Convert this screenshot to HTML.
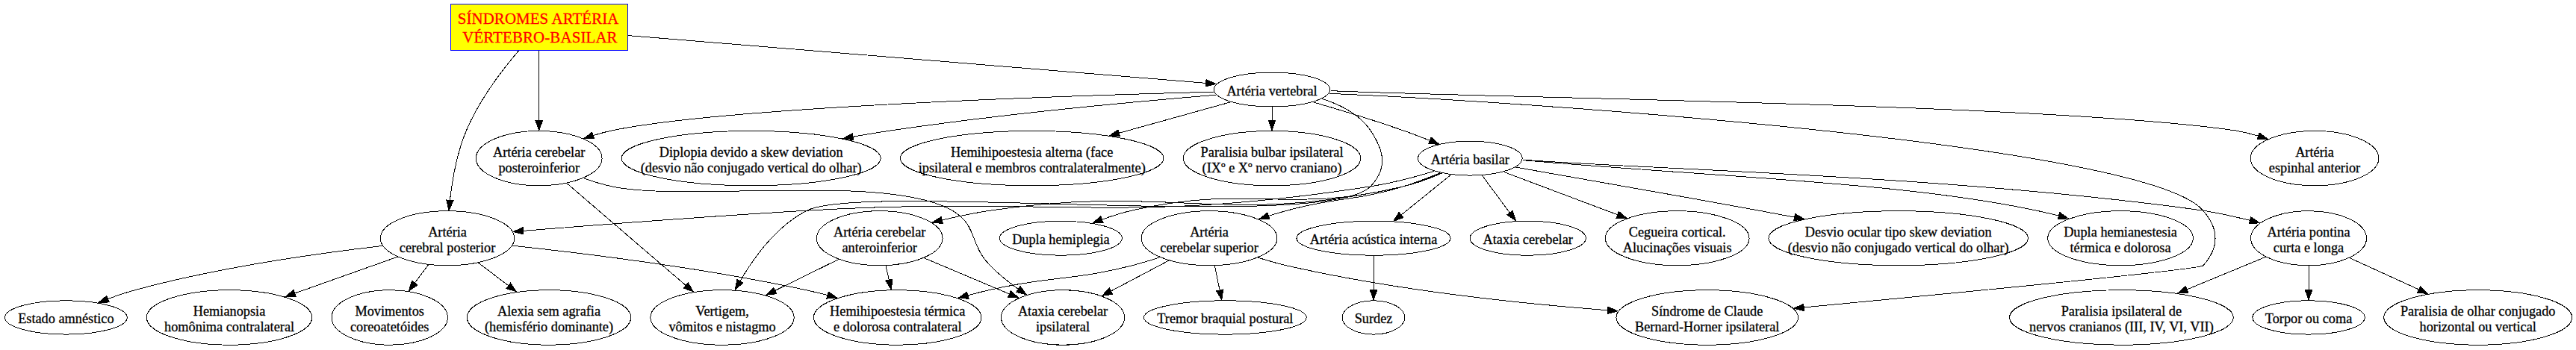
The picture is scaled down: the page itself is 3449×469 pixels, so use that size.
<!DOCTYPE html><html><head><meta charset="utf-8"><title>Síndromes Artéria Vértebro-Basilar</title><style>html,body{margin:0;padding:0;background:#fff;}svg{display:block;}text{font-family:"Liberation Serif",serif;}</style></head><body>
<svg shape-rendering="crispEdges" width="3449" height="469" viewBox="0 0 3449 469">
<rect x="0" y="0" width="3449" height="469" fill="#fff"/>
<g fill="none" stroke="#000" stroke-width="1">
<path d="M841.05,47.58C1040.68,64.05 1437.78,96.79 1614.58,111.37"/>
<path d="M721.7,64.53C721.7,90.41 721.7,130.18 721.7,161.57"/>
<path d="M697.25,64.57C674.69,90.85 642.09,132.93 624.37,175 612.04,204.26 605.7,239.83 602.46,268.17"/>
<path d="M1625.04,123.15C1438.7,127.99 971.84,143 819.04,175 810.94,176.69 802.61,178.93 794.4,181.46"/>
<path d="M1627.93,127.21C1528.13,135.5 1346.46,152.18 1192.37,175 1176.14,177.39 1159.18,180.22 1142.37,183.2"/>
<path d="M1647.8,136.7C1606.94,148.07 1549.81,163.98 1498.96,178.14"/>
<path d="M1703.04,143.44C1703.04,148.88 1703.04,154.93 1703.04,161.11"/>
<path d="M1757.74,136.71C1792.68,146.85 1838.81,160.84 1879.04,175 1890.49,179.02 1902.64,183.65 1914.16,188.21"/>
<path d="M1781.89,121.66C2029.53,132.21 2747.28,139.04 2993.7,175 3003.48,176.82 3013.57,179.35 3023.48,182.24"/>
<path d="M1769.78,132.38C1794.54,140.05 1820.2,153.04 1835.04,175 1853.53,202.37 1858,225.61 1835.04,249.82 1776.96,311.04 1155.25,243.85 1080.37,282.15 1040.64,302.48 1010.18,343.82 990.9,376.62"/>
<path d="M1779.58,125.38C2034.89,135.56 2875.48,193.01 2949.7,282.15 2971.22,306.89 2971.54,331.71 2949.7,355.95 2945.26,360.89 2607.48,393.63 2415.48,411.89"/>
<path d="M759.5,246.04C802.12,282.77 871.52,342.43 918.21,382.35"/>
<path d="M782.18,239.08C794.21,243.31 806.89,247.18 819.04,249.82 918.34,271.43 1186.78,231.32 1275.04,282.15 1309.45,301.97 1297.77,327.81 1325.7,355.95 1336.84,367.17 1350.01,377.78 1363.02,387.13"/>
<path d="M1920.16,229.4C1895.06,236.98 1863.7,245.35 1835.04,249.82 1503.25,301.53 1415.52,262.55 1080.37,282.15 949.14,289.83 798.01,301.5 700.64,309.39"/>
<path d="M1930.56,232.05C1914.97,238.87 1896.49,245.87 1879.04,249.82 1638.66,304.23 1569.42,245.93 1325.7,282.15 1304.8,285.27 1282.52,289.91 1261.74,294.83"/>
<path d="M1930.05,231.97C1914.56,238.69 1896.28,245.64 1879.04,249.82 1721.12,288.09 1673.44,245.95 1515.04,282.15 1502.09,285.12 1488.52,289.44 1475.82,294.08"/>
<path d="M1928.01,231.7C1912.86,238.06 1895.37,244.85 1879.04,249.82 1811.26,270.46 1791.34,263.43 1723.04,282.15 1715.06,284.34 1706.81,286.8 1698.61,289.4"/>
<path d="M1942.2,234.57C1923.21,249.9 1897.28,270.84 1876.16,287.89"/>
<path d="M1984.4,235.08C1995,249.4 2009.12,268.47 2021.14,284.69"/>
<path d="M2013.54,230.45C2054.54,245.89 2115.96,269 2165.33,287.6"/>
<path d="M2029.36,224.02C2105.58,237.32 2240.04,260.94 2355.04,282.15 2370.37,284.98 2386.41,287.99 2402.37,290.99"/>
<path d="M2038.78,214.61C2306.14,238.25 2577.12,244.55 2755.97,288.89"/>
<path d="M2039.05,214.11C2192.62,226.45 2612.13,234.83 2949.7,282.15 2970.2,285.43 2992.06,290.28 3012.33,295.34"/>
<path d="M511.9,329.45C426.98,339.35 294.69,358.03 183.04,388.03 170.44,391.41 157.18,395.87 144.72,400.5"/>
<path d="M532.41,344.17C491.66,358.63 439.05,377.28 394.92,392.93"/>
<path d="M573.29,355.03C567.54,362.72 561.38,370.98 555.37,379.02"/>
<path d="M640.58,352.17C653.16,361.75 667.16,372.42 680.44,382.54"/>
<path d="M686.34,329.17C782.54,339.54 941.52,359.23 1076.37,388.03 1086.57,390.21 1097.16,392.77 1107.65,395.5"/>
<path d="M1122.9,347.48C1096.89,360.27 1065.48,375.72 1037.69,389.38"/>
<path d="M1185.96,356.18C1187.34,362.14 1188.8,368.41 1190.24,374.64"/>
<path d="M1237.09,345.61C1271.46,360.12 1314.98,378.49 1351.26,393.82"/>
<path d="M1552.93,344.81C1540.45,348.88 1527.42,352.81 1515.04,355.95 1432.88,376.82 1409.68,369.14 1327.04,388.03 1316.94,390.33 1306.46,392.96 1296.05,395.74"/>
<path d="M1564.96,349.11C1541.01,361.77 1512.64,376.76 1487.58,390.01"/>
<path d="M1626.38,356.18C1628.56,366.77 1630.94,378.34 1633.12,388.88"/>
<path d="M1684.46,345.11C1697.13,349.22 1710.4,353.07 1723.04,355.95 1867.93,389.02 2037.68,406.79 2152.54,415.81"/>
<path d="M1839.04,343.02C1839.04,356.26 1839.04,373.34 1839.04,388.4"/>
<path d="M3033.53,344.3C3002.37,357.17 2963.22,373.35 2928.33,387.78"/>
<path d="M3091.04,356.18C3091.04,366.65 3091.04,378.07 3091.04,388.54"/>
<path d="M3145.9,345.61C3173.66,358.29 3207.85,373.92 3238.41,387.88"/>
</g><g fill="#000" stroke="#000" stroke-width="1">
<polygon points="1615.04,106.7 1627.94,112.47 1614.28,116.04"/>
<polygon points="726.37,161.66 721.7,174.92 717.04,161.66"/>
<polygon points="607.08,268.92 601.06,281.84 597.78,267.95"/>
<polygon points="795.77,185.9 781.64,185.65 792.84,177.09"/>
<polygon points="1142.9,187.82 1128.96,185.62 1141.24,178.69"/>
<polygon points="1499.58,182.77 1485.49,181.89 1497.08,173.84"/>
<polygon points="1707.7,161.4 1703.04,174.65 1698.37,161.4"/>
<polygon points="1916.22,184.03 1926.84,193.3 1912.73,192.63"/>
<polygon points="3024.98,177.86 3036.33,186.21 3022.21,186.71"/>
<polygon points="994.94,378.94 984.3,388.26 986.82,374.33"/>
<polygon points="2415.62,416.56 2401.9,413.17 2414.74,407.25"/>
<polygon points="921.28,378.82 928.38,391.06 915.21,385.94"/>
<polygon points="1366.06,383.55 1374.36,395.02 1360.74,391.24"/>
<polygon points="700.92,314.09 687.25,310.48 700.17,304.7"/>
<polygon points="1262.41,299.53 1248.34,298.1 1260.21,290.36"/>
<polygon points="1477.1,298.63 1462.98,298.97 1473.81,289.81"/>
<polygon points="1699.92,293.93 1685.8,293.55 1697.06,284.94"/>
<polygon points="1878.94,291.68 1865.61,296.39 1873.12,284.31"/>
<polygon points="2025.18,282.27 2029.44,295.89 2017.7,287.93"/>
<polygon points="2167.38,283.34 2178.25,292.46 2164.12,292.18"/>
<polygon points="2403.49,286.41 2415.73,293.52 2401.77,295.68"/>
<polygon points="2757.89,284.54 2769.4,292.81 2755.29,293.59"/>
<polygon points="3013.61,290.8 3025.38,298.7 3011.3,299.95"/>
<polygon points="146.18,404.94 132.06,405.34 142.86,396.19"/>
<polygon points="396.24,397.44 382.12,397.48 393.13,388.62"/>
<polygon points="559.06,381.88 547.34,389.78 551.6,376.27"/>
<polygon points="683.6,379.06 691.4,390.88 677.96,386.52"/>
<polygon points="1109.21,391.08 1120.88,399.05 1106.8,400.11"/>
<polygon points="1039.65,393.63 1025.62,395.31 1035.54,385.22"/>
<polygon points="1194.88,373.97 1193.34,388.06 1185.78,376.09"/>
<polygon points="1353.29,389.59 1363.77,399.09 1349.68,398.21"/>
<polygon points="1297.04,400.31 1282.94,399.3 1294.58,391.29"/>
<polygon points="1489.56,394.26 1475.58,396.34 1485.2,385.97"/>
<polygon points="1637.69,387.96 1635.81,402 1628.54,389.86"/>
<polygon points="2152.98,411.15 2165.92,416.84 2152.28,420.48"/>
<polygon points="1843.7,388.67 1839.04,402.04 1834.37,388.67"/>
<polygon points="2929.78,392.23 2915.68,393 2926.24,383.58"/>
<polygon points="3095.7,388.63 3091.04,402 3086.37,388.63"/>
<polygon points="3240.61,383.74 3250.8,393.55 3236.73,392.25"/>
</g>
<g fill="none" stroke="#000" stroke-width="1">
<ellipse cx="1703.04" cy="120" rx="77.55" ry="23"/>
<ellipse cx="721.7" cy="212.1" rx="84.35" ry="36.65"/>
<ellipse cx="1005.7" cy="212.1" rx="173.5" ry="36.65"/>
<ellipse cx="1381.7" cy="212.1" rx="176.35" ry="36.65"/>
<ellipse cx="1703.04" cy="212.1" rx="118.8" ry="36.65"/>
<ellipse cx="1968.37" cy="212.1" rx="69.8" ry="23"/>
<ellipse cx="3099.04" cy="212.1" rx="85.9" ry="36.65"/>
<ellipse cx="599.04" cy="319.2" rx="89.7" ry="36.5"/>
<ellipse cx="1177.7" cy="319.2" rx="84.35" ry="36.5"/>
<ellipse cx="1420.37" cy="319.2" rx="81.95" ry="23"/>
<ellipse cx="1619.04" cy="319.2" rx="90.95" ry="36.5"/>
<ellipse cx="1839.04" cy="319.2" rx="103.1" ry="23"/>
<ellipse cx="2045.7" cy="319.2" rx="77.65" ry="23"/>
<ellipse cx="2245.7" cy="319.2" rx="96.35" ry="36.5"/>
<ellipse cx="2541.7" cy="319.2" rx="173.8" ry="36.5"/>
<ellipse cx="2839.04" cy="319.2" rx="97.35" ry="36.5"/>
<ellipse cx="3091.04" cy="319.2" rx="77.5" ry="36.5"/>
<ellipse cx="88.37" cy="425.45" rx="81.9" ry="22.65"/>
<ellipse cx="307.04" cy="425.45" rx="110.75" ry="36.75"/>
<ellipse cx="521.7" cy="425.45" rx="77.7" ry="36.75"/>
<ellipse cx="735.04" cy="425.45" rx="109.75" ry="36.75"/>
<ellipse cx="967.04" cy="425.45" rx="96.15" ry="36.75"/>
<ellipse cx="1201.7" cy="425.45" rx="112.3" ry="36.75"/>
<ellipse cx="1423.04" cy="425.45" rx="82.5" ry="36.75"/>
<ellipse cx="1640.37" cy="425.45" rx="108.85" ry="22.65"/>
<ellipse cx="1839.04" cy="425.45" rx="41.7" ry="22.65"/>
<ellipse cx="2285.7" cy="425.45" rx="121.8" ry="36.75"/>
<ellipse cx="2840.37" cy="425.45" rx="149.9" ry="36.75"/>
<ellipse cx="3091.04" cy="425.45" rx="75.15" ry="22.65"/>
<ellipse cx="3317.7" cy="425.45" rx="126" ry="36.75"/>
</g>
<rect x="603.5" y="5.5" width="237" height="61.5" fill="#ffff00" stroke="#0000ff" stroke-width="1"/>
<g font-size="18.3" text-anchor="middle" fill="#000" stroke="#000" stroke-width="0.3">
<text x="720.5" y="31.9" font-size="20.8" fill="#ff0000" stroke="#ff0000" textLength="215.6" lengthAdjust="spacing">SÍNDROMES ARTÉRIA</text>
<text x="722.85" y="56.6" font-size="20.8" fill="#ff0000" stroke="#ff0000" textLength="207.3" lengthAdjust="spacing">VÉRTEBRO-BASILAR</text>
<text x="1703.04" y="127.9">Artéria vertebral</text>
<text x="721.7" y="209.7">Artéria cerebelar</text>
<text x="721.7" y="230.7">posteroinferior</text>
<text x="1005.7" y="209.7">Diplopia devido a skew deviation</text>
<text x="1005.7" y="230.7">(desvio não conjugado vertical do olhar)</text>
<text x="1381.7" y="209.7">Hemihipoestesia alterna (face</text>
<text x="1381.7" y="230.7">ipsilateral e membros contralateralmente)</text>
<text x="1703.04" y="209.7">Paralisia bulbar ipsilateral</text>
<text x="1703.04" y="230.7">(IXº e Xº nervo craniano)</text>
<text x="1968.37" y="220">Artéria basilar</text>
<text x="3099.04" y="209.7">Artéria</text>
<text x="3099.04" y="230.7">espinhal anterior</text>
<text x="599.04" y="316.8">Artéria</text>
<text x="599.04" y="337.8">cerebral posterior</text>
<text x="1177.7" y="316.8">Artéria cerebelar</text>
<text x="1177.7" y="337.8">anteroinferior</text>
<text x="1420.37" y="327.1">Dupla hemiplegia</text>
<text x="1619.04" y="316.8">Artéria</text>
<text x="1619.04" y="337.8">cerebelar superior</text>
<text x="1839.04" y="327.1">Artéria acústica interna</text>
<text x="2045.7" y="327.1">Ataxia cerebelar</text>
<text x="2245.7" y="316.8">Cegueira cortical.</text>
<text x="2245.7" y="337.8">Alucinações visuais</text>
<text x="2541.7" y="316.8">Desvio ocular tipo skew deviation</text>
<text x="2541.7" y="337.8">(desvio não conjugado vertical do olhar)</text>
<text x="2839.04" y="316.8">Dupla hemianestesia</text>
<text x="2839.04" y="337.8">térmica e dolorosa</text>
<text x="3091.04" y="316.8">Artéria pontina</text>
<text x="3091.04" y="337.8">curta e longa</text>
<text x="88.37" y="433.35">Estado amnéstico</text>
<text x="307.04" y="423.05">Hemianopsia</text>
<text x="307.04" y="444.05">homônima contralateral</text>
<text x="521.7" y="423.05">Movimentos</text>
<text x="521.7" y="444.05">coreoatetóides</text>
<text x="735.04" y="423.05">Alexia sem agrafia</text>
<text x="735.04" y="444.05">(hemisfério dominante)</text>
<text x="967.04" y="423.05">Vertigem,</text>
<text x="967.04" y="444.05">vômitos e nistagmo</text>
<text x="1201.7" y="423.05">Hemihipoestesia térmica</text>
<text x="1201.7" y="444.05">e dolorosa contralateral</text>
<text x="1423.04" y="423.05">Ataxia cerebelar</text>
<text x="1423.04" y="444.05">ipsilateral</text>
<text x="1640.37" y="433.35">Tremor braquial postural</text>
<text x="1839.04" y="433.35">Surdez</text>
<text x="2285.7" y="423.05">Síndrome de Claude</text>
<text x="2285.7" y="444.05">Bernard-Horner ipsilateral</text>
<text x="2840.37" y="423.05">Paralisia ipsilateral de</text>
<text x="2840.37" y="444.05">nervos cranianos (III, IV, VI, VII)</text>
<text x="3091.04" y="433.35">Torpor ou coma</text>
<text x="3317.7" y="423.05">Paralisia de olhar conjugado</text>
<text x="3317.7" y="444.05">horizontal ou vertical</text>
</g></svg></body></html>
